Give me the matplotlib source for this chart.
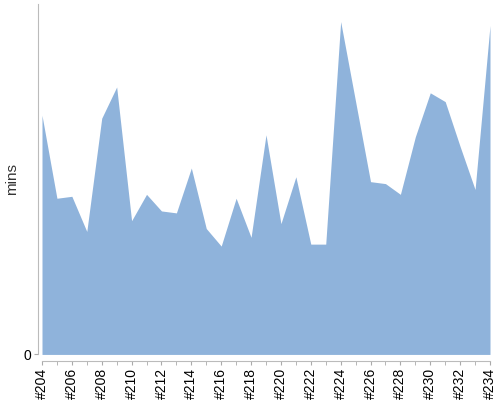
import numpy as np
import matplotlib.pyplot as plt

# build numbers and duration (mins) per build
builds = list(range(204, 235))
mins = [24.5, 16.0, 16.2, 12.6, 24.2, 27.4, 13.7, 16.4, 14.7, 14.5,
        19.1, 12.9, 11.1, 16.0, 12.0, 22.5, 13.4, 18.2, 11.3, 11.3,
        34.1, 25.9, 17.7, 17.5, 16.4, 22.3, 26.8, 25.9, 21.3, 16.9,
        33.7]
tick_labels = ['#%d' % b for b in builds[::2]]

plt.rcParams['font.family'] = ['Liberation Sans', 'DejaVu Sans']

fig = plt.figure(figsize=(5, 4), dpi=100)
ax = fig.add_axes([0.084, 0.0925, 0.896, 0.8975])

x = np.arange(len(builds))
ax.fill_between(x, 0, mins, color='#8FB3DB', linewidth=0)

ax.set_xlim(0, len(builds) - 1)
ax.set_ylim(0, 35.9)

ax.set_xticks(x, minor=True)
ax.set_xticks(x[::2])
ax.set_xticklabels(tick_labels, fontsize=7, color='#222222')
ax.set_yticks([0])
ax.set_yticklabels(['0'], fontsize=8.5, color='#555555')

ax.tick_params(axis='x', which='both', direction='out', length=3,
               color='#aaaaaa', pad=1.5, labelrotation=90)
ax.tick_params(axis='y', direction='out', length=3, color='#aaaaaa', pad=2)

for s in ['top', 'right']:
    ax.spines[s].set_visible(False)
ax.spines['left'].set_position(('outward', 3))
ax.spines['bottom'].set_position(('outward', 5))
ax.spines['left'].set_color('#bbbbbb')
ax.spines['bottom'].set_color('#bbbbbb')

ax.set_ylabel('mins', fontsize=11, color='#333333')
ax.yaxis.set_label_coords(-0.051, 0.5)

# keep the rotated build labels inside the figure
fig.canvas.draw()
r = fig.canvas.get_renderer()
low = min(t.get_window_extent(r).y0 for t in ax.get_xticklabels())
if low < 1:
    pos = ax.get_position()
    shift = (1 - low) / fig.bbox.height
    ax.set_position([pos.x0, pos.y0 + shift, pos.width, pos.height - shift])

fig.savefig('out.png', dpi=100)
